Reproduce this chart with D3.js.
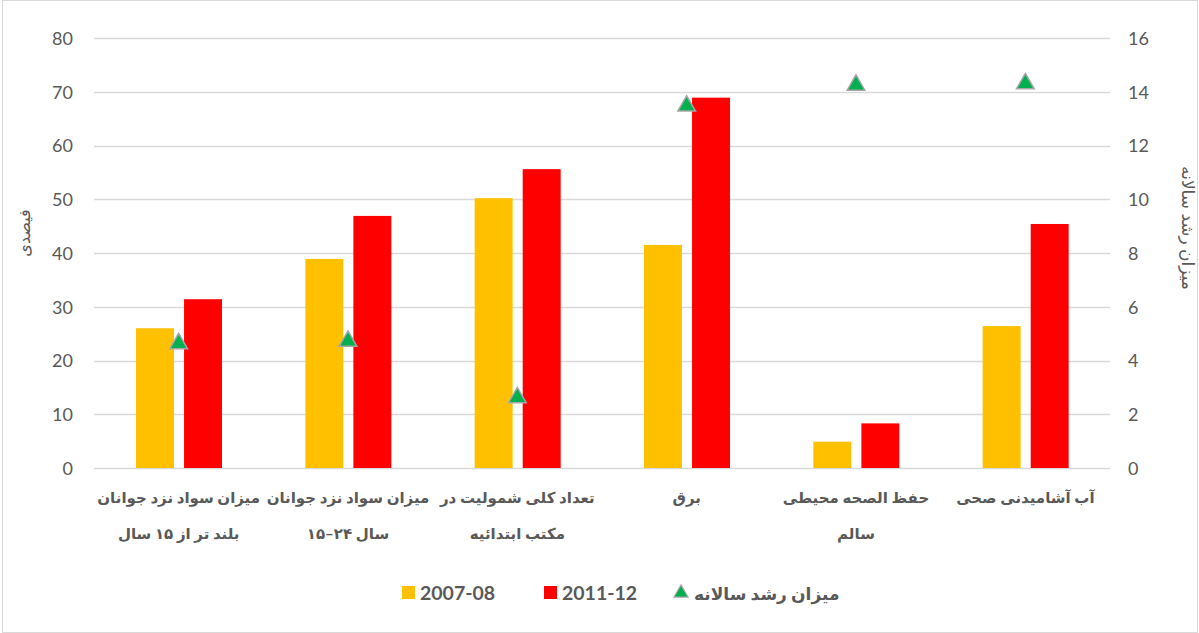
<!DOCTYPE html>
<html>
<head>
<meta charset="utf-8">
<script src="https://d3js.org/d3.v7.min.js"></script>
<style>
  body { margin: 0; background: #fff; }
  svg text { font-family: Lato, "DejaVu Sans", sans-serif; fill: #595959; }
</style>
</head>
<body>
<div id="chart"></div>
<script>
// categories (two lines each)
var categories = ["c1", "c2", "c3", "c4", "c5", "c6"];
var catLines = [
  ["میزان سواد نزد جوانان", "بلند تر از ۱۵ سال"],
  ["میزان سواد نزد جوانان", "\u200E۱۵–۲۴ سال"],
  ["تعداد کلی شمولیت در", "مکتب ابتدائیه"],
  ["برق", ""],
  ["حفظ الصحه محیطی", "سالم"],
  ["آب آشامیدنی صحی", ""]
];
var series = ["2007-08", "2011-12"];
var values0708 = [26.0, 38.9, 50.2, 41.5, 4.9, 26.4];
var values1112 = [31.4, 46.9, 55.6, 68.9, 8.3, 45.4];
var growth = [4.63, 4.72, 2.62, 13.47, 14.25, 14.3];
var leftTicks = [0, 10, 20, 30, 40, 50, 60, 70, 80];
var rightTicks = [0, 2, 4, 6, 8, 10, 12, 14, 16];
var colors = { "2007-08": "#FFC000", "2011-12": "#FF0000" };
var growthLabel = "میزان رشد سالانه";

var W = 1199, H = 633;
var svg = d3.select("#chart").append("svg").attr("width", W).attr("height", H);

svg.append("rect").attr("x", 2.5).attr("y", 0.5).attr("width", W - 4).attr("height", H - 1)
  .attr("fill", "#fff").attr("stroke", "#d9d9d9");

var x = d3.scaleBand().domain(categories).range([94, 1110]);
var x1 = d3.scaleBand().domain(series).range([42, 128]).paddingInner(0.21);
var y = d3.scaleLinear().domain([0, 80]).range([468, 38]);
var y2 = d3.scaleLinear().domain([0, 16]).range([468, 38]);

// gridlines
svg.append("g").selectAll("line").data(leftTicks).enter().append("line")
  .attr("x1", 94).attr("x2", 1110)
  .attr("y1", function(d) { return Math.round(y(d)) + 0.5; })
  .attr("y2", function(d) { return Math.round(y(d)) + 0.5; })
  .attr("stroke", "#d9d9d9").attr("stroke-width", 1.3);

// left axis
var yAxis = d3.axisLeft(y).tickValues(leftTicks).tickSize(0).tickPadding(0);
var gl = svg.append("g").attr("transform", "translate(73,0)").call(yAxis);
gl.select(".domain").remove();
gl.selectAll("text").attr("font-size", 18).attr("fill", "#595959").attr("dy", "0.35em");

// right axis
var yAxis2 = d3.axisRight(y2).tickValues(rightTicks).tickSize(0).tickPadding(0);
var gr = svg.append("g").attr("transform", "translate(1128,0)").call(yAxis2);
gr.select(".domain").remove();
gr.selectAll("text").attr("font-size", 18).attr("fill", "#595959").attr("dy", "0.35em");

// bars
var rows = categories.map(function(c, i) {
  return { cat: c, vals: [{ s: series[0], v: values0708[i] }, { s: series[1], v: values1112[i] }] };
});
var groups = svg.append("g").selectAll("g").data(rows).enter().append("g")
  .attr("transform", function(d) { return "translate(" + x(d.cat) + ",0)"; });
groups.selectAll("rect").data(function(d) { return d.vals; }).enter().append("rect")
  .attr("x", function(d) { return x1(d.s); })
  .attr("width", x1.bandwidth())
  .attr("y", function(d) { return y(d.v); })
  .attr("height", function(d) { return y(0) - y(d.v); })
  .attr("fill", function(d) { return colors[d.s]; });

// growth markers
var tri = d3.symbol().type(d3.symbolTriangle).size(135);
svg.append("g").selectAll("path").data(growth).enter().append("path")
  .attr("d", tri)
  .attr("transform", function(d, i) {
    return "translate(" + (x(categories[i]) + x.bandwidth() / 2) + "," + y2(d) + ")";
  })
  .attr("fill", "#00B050").attr("stroke", "#a6a6a6").attr("stroke-width", 1.5);

// category labels
var lab = svg.append("g").selectAll("g").data(categories).enter().append("g");
lab.each(function(c, i) {
  var g = d3.select(this);
  catLines[i].forEach(function(t, k) {
    if (!t) return;
    g.append("text")
      .attr("x", x(c) + x.bandwidth() / 2)
      .attr("y", 503 + k * 36)
      .attr("text-anchor", "middle")
      .attr("font-size", 15).attr("font-weight", "bold")
      .text(t);
  });
});

// axis titles
svg.append("text").attr("transform", "translate(30,233) rotate(-90)")
  .attr("text-anchor", "middle").attr("font-size", 16).text("فیصدی");
svg.append("text").attr("transform", "translate(1182,228) rotate(90)")
  .attr("text-anchor", "middle").attr("font-size", 17).text(growthLabel);

// legend
var leg = svg.append("g").attr("font-weight", "bold");
var lx = [402, 544];
series.forEach(function(s, i) {
  leg.append("rect").attr("x", lx[i]).attr("y", 586).attr("width", 13).attr("height", 13)
    .attr("fill", colors[s]);
  leg.append("text").attr("x", lx[i] + 18).attr("y", 600).attr("font-size", 19.5).text(s);
});
leg.append("path").attr("d", d3.symbol().type(d3.symbolTriangle).size(85))
  .attr("transform", "translate(681,593)")
  .attr("fill", "#00B050").attr("stroke", "#a6a6a6").attr("stroke-width", 1.2);
leg.append("text").attr("x", 694).attr("y", 600).attr("font-size", 17).text(growthLabel);
</script>
</body>
</html>
